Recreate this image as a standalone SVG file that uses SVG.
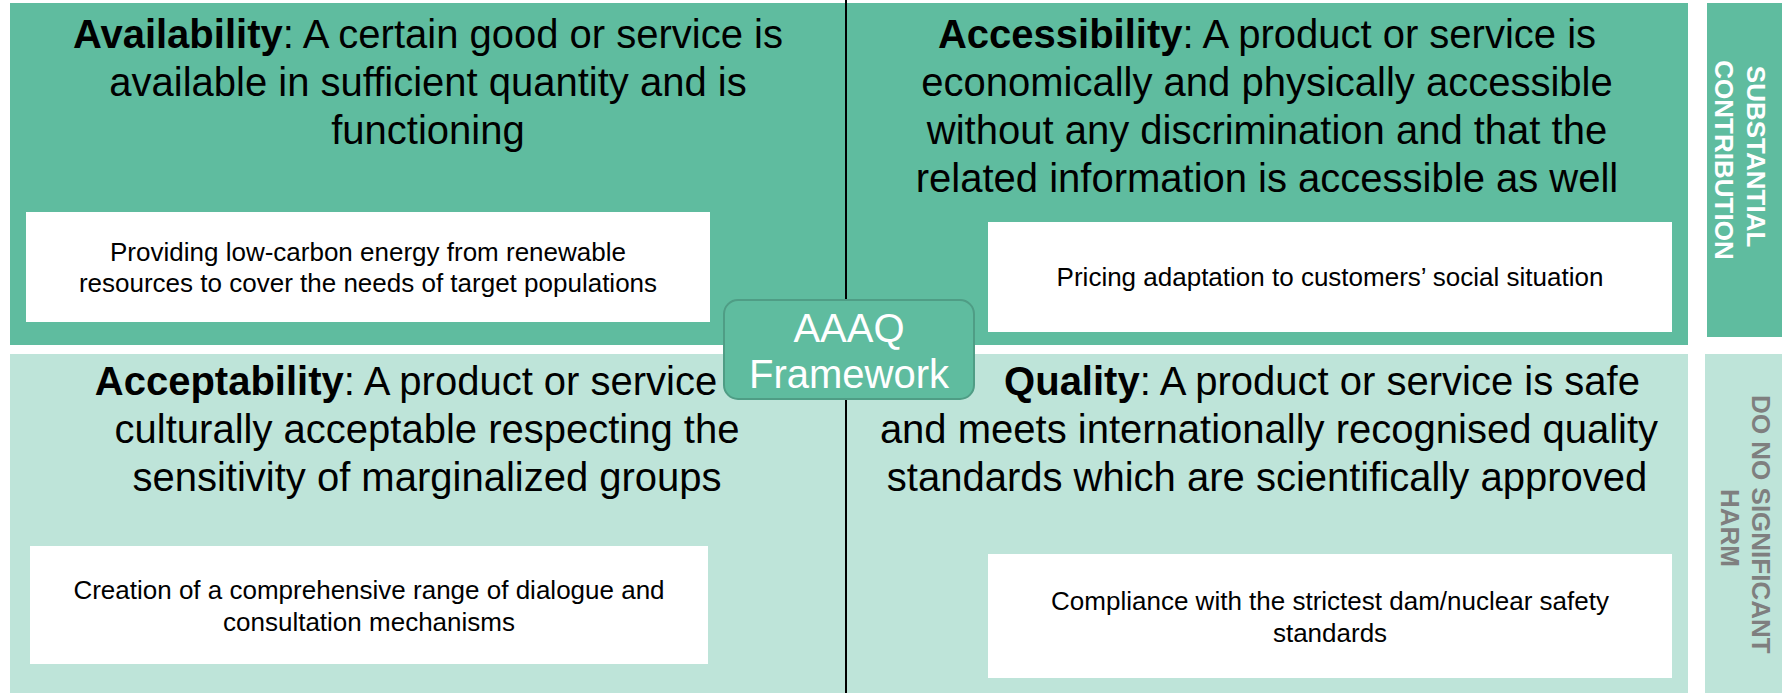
<svg xmlns="http://www.w3.org/2000/svg" width="1785" height="693" viewBox="0 0 1785 693">
  <style>
    .dark { fill: #5fbc9f; }
    .light { fill: #bee4d9; }
    .card { fill: #ffffff; }
    .head { font-family: "Liberation Sans", Arial, sans-serif; font-size: 40px; fill: #000000; text-anchor: middle; }
    .head .b { font-weight: bold; }
    .body { font-family: "Liberation Sans", Arial, sans-serif; font-size: 26px; fill: #000000; text-anchor: middle; }
    .side { font-family: "Liberation Sans", Arial, sans-serif; font-size: 26px; font-weight: bold; text-anchor: middle; }
    .hub { font-family: "Liberation Sans", Arial, sans-serif; font-size: 40px; fill: #ffffff; text-anchor: middle; }
  </style>

  <rect width="1785" height="693" fill="#ffffff"/>

  <!-- quadrant bands -->
  <g id="bands">
    <rect class="dark" x="10" y="3" width="1678" height="342"/>
    <rect class="light" x="10" y="354" width="1678" height="339"/>
  </g>

  <!-- vertical divider between the two columns -->
  <g id="connectors">
    <line x1="846" y1="0" x2="846" y2="693" stroke="#000000" stroke-width="2"/>
  </g>

  <!-- Availability -->
  <g id="availability">
    <text class="head" x="428" y="48"><tspan class="b">Availability</tspan>: A certain good or service is</text>
    <text class="head" x="428" y="96">available in sufficient quantity and is</text>
    <text class="head" x="428" y="144">functioning</text>
    <rect class="card" x="26" y="212" width="684" height="110"/>
    <text class="body" x="368" y="261">Providing low-carbon energy from renewable</text>
    <text class="body" x="368" y="292">resources to cover the needs of target populations</text>
  </g>

  <!-- Accessibility -->
  <g id="accessibility">
    <text class="head" x="1267" y="48"><tspan class="b">Accessibility</tspan>: A product or service is</text>
    <text class="head" x="1267" y="96">economically and physically accessible</text>
    <text class="head" x="1267" y="144">without any discrimination and that the</text>
    <text class="head" x="1267" y="192">related information is accessible as well</text>
    <rect class="card" x="988" y="222" width="684" height="110"/>
    <text class="body" x="1330" y="286">Pricing adaptation to customers’ social situation</text>
  </g>

  <!-- Acceptability -->
  <g id="acceptability">
    <text class="head" x="406" y="395"><tspan class="b">Acceptability</tspan>: A product or service</text>
    <text class="head" x="427" y="443">culturally acceptable respecting the</text>
    <text class="head" x="427" y="491">sensitivity of marginalized groups</text>
    <rect class="card" x="30" y="546" width="678" height="118"/>
    <text class="body" x="369" y="599">Creation of a comprehensive range of dialogue and</text>
    <text class="body" x="369" y="631">consultation mechanisms</text>
  </g>

  <!-- Quality -->
  <g id="quality">
    <text class="head" x="1322" y="395"><tspan class="b">Quality</tspan>: A product or service is safe</text>
    <text class="head" x="1269" y="443">and meets internationally recognised quality</text>
    <text class="head" x="1267" y="491">standards which are scientifically approved</text>
    <rect class="card" x="988" y="554" width="684" height="124"/>
    <text class="body" x="1330" y="610">Compliance with the strictest dam/nuclear safety</text>
    <text class="body" x="1330" y="642">standards</text>
  </g>

  <!-- central hub -->
  <g id="aaaq-framework">
    <rect x="724" y="300" width="250" height="99" rx="14" ry="14" fill="#5fbc9f" stroke="#4f9d85" stroke-width="2"/>
    <text class="hub" x="849" y="342">AAAQ</text>
    <text class="hub" x="849" y="388">Framework</text>
  </g>

  <!-- side labels -->
  <g id="substantial-contribution">
    <rect class="dark" x="1707" y="3" width="75" height="334"/>
    <text class="side" fill="#ffffff" transform="translate(1747,160) rotate(90)">
      <tspan x="0" y="0">SUBSTANTIAL</tspan>
      <tspan x="0" y="32">CONTRIBUTION</tspan>
    </text>
  </g>
  <g id="do-no-significant-harm">
    <rect class="light" x="1705" y="354" width="77" height="339"/>
    <text class="side" fill="#7f7f7f" transform="translate(1752,528) rotate(90)">
      <tspan x="0" y="0">DO NO SIGNIFICANT</tspan>
      <tspan x="0" y="31">HARM</tspan>
    </text>
  </g>
</svg>
